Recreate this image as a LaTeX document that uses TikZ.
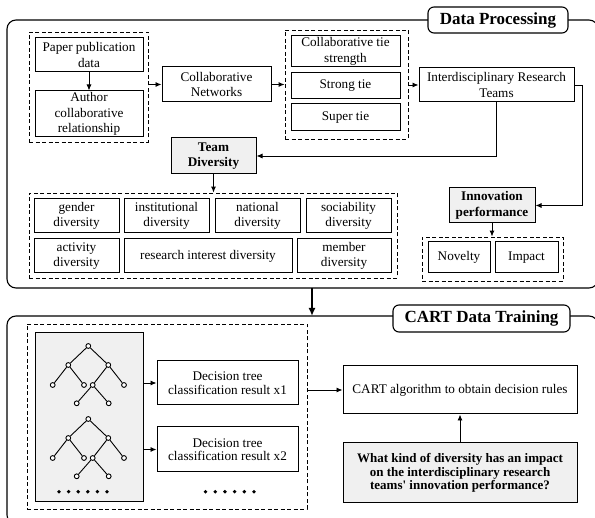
\documentclass[tikz,border=0pt]{standalone}
\usepackage{fontspec}
\setmainfont{Liberation Serif}
\newfontfamily\qfont{Liberation Serif}
\usetikzlibrary{arrows.meta,calc}
\definecolor{panelgray}{HTML}{F0F0F0}
\tikzset{
  box/.style={draw, line width=1pt, inner sep=0pt, align=center, font=\fontsize{13.2}{15.5}\selectfont},
  tightbox/.style={box, font=\fontsize{13.2}{13.5}\selectfont},
  graybox/.style={box, fill=panelgray, font=\bfseries\fontsize{13.2}{15.5}\selectfont},
  grp/.style={draw, line width=0.8pt, dash pattern=on 4pt off 2.5pt, inner sep=0pt},
  outer/.style={draw, line width=1.1pt, rounded corners=9pt},
  titlebox/.style={draw, fill=white, line width=1.1pt, rounded corners=6pt, inner sep=0pt, font=\bfseries\fontsize{17}{20}\selectfont},
  arr/.style={line width=0.9pt, -{Latex[length=6pt,width=5pt]}},
  bigarr/.style={line width=2.4pt, -{Latex[length=8pt,width=7pt]}},
  tn/.style={circle, draw, fill=white, line width=0.9pt, minimum size=4.8pt, inner sep=0pt},
  te/.style={line width=0.9pt},
  dot/.style={circle, fill=black, minimum size=3.8pt, inner sep=0pt}
}
\begin{document}
\begin{tikzpicture}[x=1pt,y=-1pt]
\useasboundingbox (0,0) rectangle (595,518);
\clip (0,0) rectangle (595,518);
% outer frames
\draw[outer] (7,20) rectangle (598,288);
\draw[outer] (7,316) rectangle (598,524);
\node[titlebox, minimum width=140pt, minimum height=26pt] (title1) at (498,20) {Data Processing};
\node[titlebox, minimum width=177pt, minimum height=27pt] (title2) at (481.5,318.5) {CART Data Training};

% ---------- Data processing ----------
\node[grp, minimum width=119pt, minimum height=110pt] (g1) at (88.5,87) {};
\node[box, minimum width=108pt, minimum height=34pt] (paper) at (89,55) {Paper publication\\data};
\node[box, minimum width=108pt, minimum height=46pt] (author) at (89,114) {Author\\collaborative\\relationship};
\draw[arr] (paper.south) -- (author.north);

\node[box, minimum width=109pt, minimum height=35pt] (cn) at (216.5,84.5) {Collaborative\\Networks};
\draw[arr] (cn.west -| g1.east) -- (cn.west);

\node[grp, minimum width=123pt, minimum height=109pt] (g2) at (346.5,84.5) {};
\node[box, minimum width=109pt, minimum height=31pt] (cts) at (345.5,51.5) {Collaborative tie\\strength};
\node[box, minimum width=109pt, minimum height=26pt] (strong) at (345.5,86) {Strong tie};
\node[box, minimum width=109pt, minimum height=27pt] (super) at (345.5,117.5) {Super tie};
\draw[arr] (cn.east) -- (cn.east -| g2.west);

\node[box, minimum width=155pt, minimum height=34pt] (irt) at (496.5,85) {Interdisciplinary Research\\Teams};
\draw[arr] (irt.west -| g2.east) -- (irt.west);

\node[graybox, minimum width=85pt, minimum height=36pt] (td) at (213.5,156) {Team\\Diversity};
\draw[arr] (irt.south) |- (td.east);

\node[grp, minimum width=368pt, minimum height=85pt] (g3) at (213,235.5) {};
\node[box, minimum width=85pt, minimum height=34pt] (gender) at (76.5,216) {gender\\diversity};
\node[box, minimum width=85pt, minimum height=34pt] (inst) at (166.5,216) {institutional\\diversity};
\node[box, minimum width=85pt, minimum height=34pt] (nat) at (257.5,216) {national\\diversity};
\node[box, minimum width=85pt, minimum height=34pt] (soc) at (348.5,216) {sociability\\diversity};
\node[box, minimum width=85pt, minimum height=34pt] (act) at (76.5,256) {activity\\diversity};
\node[box, minimum width=168pt, minimum height=34pt] (ri) at (208,256) {research interest diversity};
\node[box, minimum width=94pt, minimum height=34pt] (mem) at (344,256) {member\\diversity};
\draw[arr] (td.south) -- (td.south |- g3.north);

\node[graybox, minimum width=86pt, minimum height=35pt] (ip) at (492,205.5) {Innovation\\performance};
\coordinate (c1) at (582,85);
\draw[arr] (irt.east) -- (c1) |- (ip.east);

\node[grp, minimum width=141pt, minimum height=44pt] (g4) at (492.5,259) {};
\node[box, minimum width=62pt, minimum height=31pt] (nov) at (459,257.5) {Novelty};
\node[box, minimum width=63pt, minimum height=31pt] (imp) at (526.5,257.5) {Impact};
\draw[arr] (ip.south) -- (ip.south |- g4.north);

% big arrow between frames
\coordinate (bt) at (312,288);
\coordinate (bb) at (312,316);
\draw[bigarr] (bt) -- (bb);

% ---------- CART data training ----------
\node[grp, minimum width=280pt, minimum height=185pt] (g5) at (167,416.5) {};
\node[draw, line width=1pt, fill=panelgray, minimum width=108pt, minimum height=169pt, inner sep=0pt] (panel) at (89,417.5) {};

% trees
\foreach \n/\px/\py in {r/88.3/346, l/68.3/365, rr/108.3/365, ll/52.7/385, lr/84/385, rl/92.7/385, rrr/124/385, rll/76.7/403.3, rlr/108.7/403.3}{
  \node[tn] (a\n) at (\px,\py) {};
  \node[tn] (b\n) at (\px,\py+73) {};
}
\foreach \t in {a,b}{
  \draw[te] (\t r) -- (\t l);
  \draw[te] (\t r) -- (\t rr);
  \draw[te] (\t l) -- (\t ll);
  \draw[te] (\t l) -- (\t lr);
  \draw[te] (\t rr) -- (\t rl);
  \draw[te] (\t rr) -- (\t rrr);
  \draw[te] (\t rl) -- (\t rll);
  \draw[te] (\t rl) -- (\t rlr);
}
\foreach \i in {0,...,5}{
  \node[dot] (d\i) at (59+9.6*\i,491.7) {};
  \node[dot] (e\i) at (205.5+9.7*\i,491.7) {};
}

\node[tightbox, minimum width=141pt, minimum height=44pt] (dt1) at (227.5,383) {Decision tree\\classification result x1};
\node[tightbox, minimum width=141pt, minimum height=45pt] (dt2) at (227.5,449.5) {Decision tree\\classification result x2};
\draw[arr] (dt1.west -| panel.east) -- (dt1.west);
\draw[arr] (dt2.west -| panel.east) -- (dt2.west);

\node[box, minimum width=234pt, minimum height=48pt] (cart) at (460,390) {CART algorithm to obtain decision rules};
\draw[arr] (cart.west -| g5.east) -- (cart.west);

\node[box, fill=panelgray, font=\qfont\bfseries\fontsize{13}{13.5}\selectfont, minimum width=234pt, minimum height=60pt] (q) at (460,473) {What kind of diversity has an impact\\on the interdisciplinary research\\teams' innovation performance?};
\draw[arr] (q.north) -- (cart.south);
\end{tikzpicture}
\end{document}
